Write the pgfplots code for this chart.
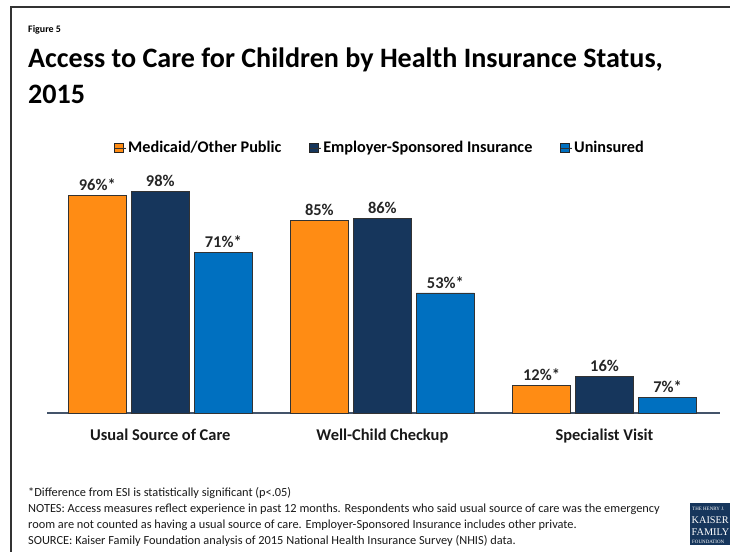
\documentclass[border=0pt]{standalone}
\usepackage{pgfplots}
\pgfplotsset{compat=1.18}
\usepackage{fontspec}
\setmainfont{Carlito}
\newfontfamily\logofont{Liberation Serif}
\definecolor{kfforange}{RGB}{255,140,20}
\definecolor{kffnavy}{RGB}{22,54,92}
\definecolor{kffblue}{RGB}{0,112,192}
\definecolor{axisline}{RGB}{68,84,106}
\begin{document}
\begin{tikzpicture}[x=1bp,y=1bp]
\path[use as bounding box] (0,0) rectangle (730,552);
\clip (0,0) rectangle (730,552);
% frame
\draw[line width=2bp, color=black!80] (10.5,-2) -- (10.5,545) -- (735,545);
% titles
\node[anchor=base west, inner sep=0, font=\bfseries\fontsize{10}{12}\selectfont] at (28,552-33) {Figure 5};
\node[anchor=base west, inner sep=0, font=\bfseries\fontsize{28.2}{32}\selectfont] at (28,552-68) {Access to Care for Children by Health Insurance Status,};
\node[anchor=base west, inner sep=0, font=\bfseries\fontsize{28.2}{32}\selectfont] at (28,552-104) {2015};
\begin{axis}[
  at={(47bp,139bp)}, anchor=south west,
  scale only axis, width=673bp, height=226.5bp,
  xmin=-0.51, xmax=2.52, ymin=0, ymax=100,
  ybar=5bp, bar width=58bp,
  axis x line=bottom, hide y axis,
  axis line style={-, draw=axisline, line width=1.8bp},
  xtick={0,1,2},
  xticklabels={Usual Source of Care, Well-Child Checkup, Specialist Visit},
  major tick length=0pt,
  xticklabel style={font=\bfseries\fontsize{16.5}{19}\selectfont, text=black!90, yshift=-12bp},
  clip=false,
  point meta=explicit symbolic,
  nodes near coords,
  every node near coord/.append style={font=\bfseries\fontsize{16.5}{19}\selectfont, text=black!85, anchor=south, yshift=1bp},
  legend columns=3,
  legend style={at={(0.495,1.17)}, anchor=center, draw=none, fill=none,
    font=\bfseries\fontsize{16.3}{19}\selectfont,
    /tikz/every even column/.append style={column sep=26bp}},
  legend image code/.code={\draw[#1, draw=black!85, line width=0.8bp] (0bp,-4.5bp) rectangle (9bp,5bp); \path (0bp,0bp) -- (11bp,0bp);},
]
\addplot[fill=kfforange, draw=black!80, line width=0.8bp] coordinates {(0,96) [96\%*] (1,85) [85\%] (2,12) [12\%*]};
\addplot[fill=kffnavy, draw=black!80, line width=0.8bp] coordinates {(0,98) [98\%] (1,86) [86\%] (2,16) [16\%]};
\addplot[fill=kffblue, draw=black!80, line width=0.8bp] coordinates {(0,71) [71\%*] (1,53) [53\%*] (2,7) [7\%*]};
\legend{Medicaid/Other Public, Employer-Sponsored Insurance, Uninsured}
\end{axis}
% footnotes
\begin{scope}[every node/.style={anchor=base west, inner sep=0, font=\fontsize{12.4}{14}\selectfont, text=black!90}]
\node at (28,552-497) {*Difference from ESI is statistically significant (p<.05)};
\node at (28,552-513) {NOTES: Access measures reflect experience in past 12 months. Respondents who said usual source of care was the emergency};
\node at (28,552-529) {room are not counted as having a usual source of care. Employer-Sponsored Insurance includes other private.};
\node at (28,552-545) {SOURCE: Kaiser Family Foundation analysis of 2015 National Health Insurance Survey (NHIS) data.};
\end{scope}
% logo
\fill[kffnavy] (690,7) rectangle (740,49);
\node[anchor=base west, inner sep=0, text=white, font=\logofont\fontsize{5}{6}\selectfont] at (692,552-511) {THE HENRY J.};
\node[anchor=base west, inner sep=0, text=white, font=\logofont\fontsize{10.3}{12}\selectfont] at (691.5,552-524) {KAISER};
\node[anchor=base west, inner sep=0, text=white, font=\logofont\fontsize{10.3}{12}\selectfont] at (691.5,552-536) {FAMILY};
\node[anchor=base west, inner sep=0, text=white, font=\logofont\fontsize{5}{6}\selectfont] at (692,552-544) {FOUNDATION};
\end{tikzpicture}
\end{document}
